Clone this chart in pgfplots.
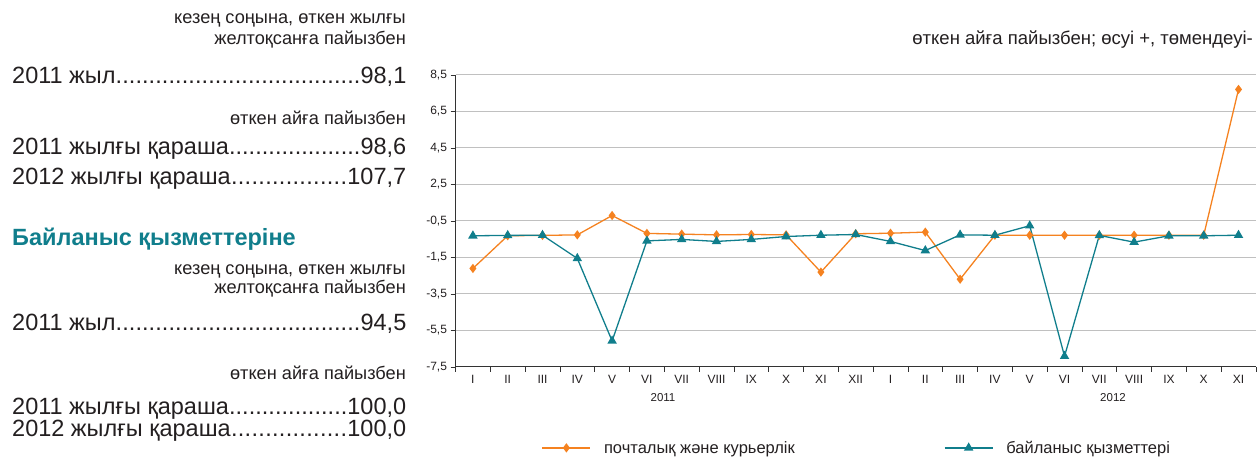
\documentclass[border=0pt]{standalone}
\usepackage{fontspec}
\setmainfont{Liberation Sans}
\usepackage{pgfplots}
\pgfplotsset{compat=1.18}
\definecolor{orng}{RGB}{245,130,32}
\definecolor{tealc}{RGB}{16,126,140}
\definecolor{txt}{RGB}{35,31,32}
\definecolor{gridc}{RGB}{192,192,192}
\newcommand\dotrow[2]{\hbox to 394bp{#1\xleaders\hbox{.}\hfill#2}}
\newcommand\bigtxt{\fontsize{23.5bp}{26bp}\selectfont}
\newcommand\sml{\fontsize{18.2bp}{20bp}\selectfont}

\pgfplotstableread{
x post
0 -2.10
1 -0.31
2 -0.29
3 -0.26
4 0.80
5 -0.18
6 -0.22
7 -0.26
8 -0.24
9 -0.26
10 -2.30
11 -0.20
12 -0.17
13 -0.11
14 -2.69
15 -0.28
16 -0.28
17 -0.28
18 -0.28
19 -0.28
20 -0.28
21 -0.28
22 7.71
}\posttable
\pgfplotstableread{
x comm
0 -0.31
1 -0.29
2 -0.28
3 -1.55
4 -6.07
5 -0.59
6 -0.51
7 -0.62
8 -0.51
9 -0.35
10 -0.28
11 -0.24
12 -0.62
13 -1.12
14 -0.26
15 -0.28
16 0.24
17 -6.91
18 -0.29
19 -0.66
20 -0.31
21 -0.31
22 -0.28
}\commtable

\begin{document}
\begin{tikzpicture}[x=1bp,y=1bp]
\useasboundingbox (0,0) rectangle (1259,458);
\begin{axis}[
  at={(455.5bp,91bp)}, anchor=south west,
  scale only axis, width=800.4bp, height=292bp,
  xmin=-0.5, xmax=22.5, ymin=-7.5, ymax=8.5,
  axis x line*=bottom, axis y line*=left,
  axis line style={-, draw=black!80, line width=1bp},
  xtick={-0.5,0.5,...,22.5},
  x tick label as interval,
  xticklabels={I,II,III,IV,V,VI,VII,VIII,IX,X,XI,XII,I,II,III,IV,V,VI,VII,VIII,IX,X,XI},
  ytick={-7.5,-5.5,-3.5,-1.5,0.5,2.5,4.5,6.5,8.5},
  yticklabels={{-7,5},{-5,5},{-3,5},{-1,5},{-0,5},{2,5},{4,5},{6,5},{8,5}},
  tick align=outside, major tick length=5bp,
  tick style={draw=black!80, line width=0.8bp},
  ymajorgrids, grid style={draw=gridc, line width=1bp},
  ticklabel style={font=\fontsize{12bp}{14bp}\selectfont, text=txt},
  legend columns=2,
  legend style={at={(rel axis cs:0.1075,-0.277)}, anchor=west, draw=none, fill=none,
    inner sep=0pt, font=\fontsize{16.5bp}{18bp}\selectfont, text=txt,
    /tikz/every odd column/.append style={column sep=11bp}},
  legend cell align=left,
  legend image code/.code={\draw[mark repeat=2,mark phase=2,#1] plot coordinates {(0bp,0bp)(24bp,0bp)(48bp,0bp)};},
  clip=false,
]
\addplot[orng, line width=1.3bp, mark=diamond*, mark size=3.6bp, mark options={fill=orng, draw=orng}] table[x=x,y=post] {\posttable};
\addlegendentry{\makebox[338bp][l]{почталық және курьерлік}}
\addplot[tealc, line width=1.3bp, mark=triangle*, mark size=4.2bp, mark options={fill=tealc, draw=tealc}] table[x=x,y=comm] {\commtable};
\addlegendentry{байланыс қызметтері}
\end{axis}

% years
\node[font=\fontsize{11.5bp}{13bp}\selectfont, text=txt] at (663,60) {2011};
\node[font=\fontsize{11.5bp}{13bp}\selectfont, text=txt] at (1113,60) {2012};

% chart title
\node[anchor=base east, inner sep=0, font=\fontsize{18.5bp}{20bp}\selectfont, text=txt] at (1253,413) {өткен айға пайызбен; өсуі +, төмендеуі-};

% left panel
\begin{scope}[every node/.style={inner sep=0, text=txt}]
\node[anchor=base east, font=\sml] at (406,434) {кезең соңына, өткен жылғы};
\node[anchor=base east, font=\sml] at (406,413) {желтоқсанға пайызбен};
\node[anchor=base west, font=\bigtxt] at (12,374.7) {\dotrow{2011 жыл}{98,1}};
\node[anchor=base east, font=\sml] at (406,333) {өткен айға пайызбен};
\node[anchor=base west, font=\bigtxt] at (12,303) {\dotrow{2011 жылғы қараша}{98,6}};
\node[anchor=base west, font=\bigtxt] at (12,273.7) {\dotrow{2012 жылғы қараша}{107,7}};
\node[anchor=base west, font=\fontsize{23.5bp}{26bp}\selectfont\bfseries, text=tealc] at (12,212.5) {Байланыс қызметтеріне};
\node[anchor=base east, font=\sml] at (406,183) {кезең соңына, өткен жылғы};
\node[anchor=base east, font=\sml] at (406,164) {желтоқсанға пайызбен};
\node[anchor=base west, font=\bigtxt] at (12,127.3) {\dotrow{2011 жыл}{94,5}};
\node[anchor=base east, font=\sml] at (406,78) {өткен айға пайызбен};
\node[anchor=base west, font=\bigtxt] at (12,43) {\dotrow{2011 жылғы қараша}{100,0}};
\node[anchor=base west, font=\bigtxt] at (12,21.3) {\dotrow{2012 жылғы қараша}{100,0}};
\end{scope}
\end{tikzpicture}
\end{document}
